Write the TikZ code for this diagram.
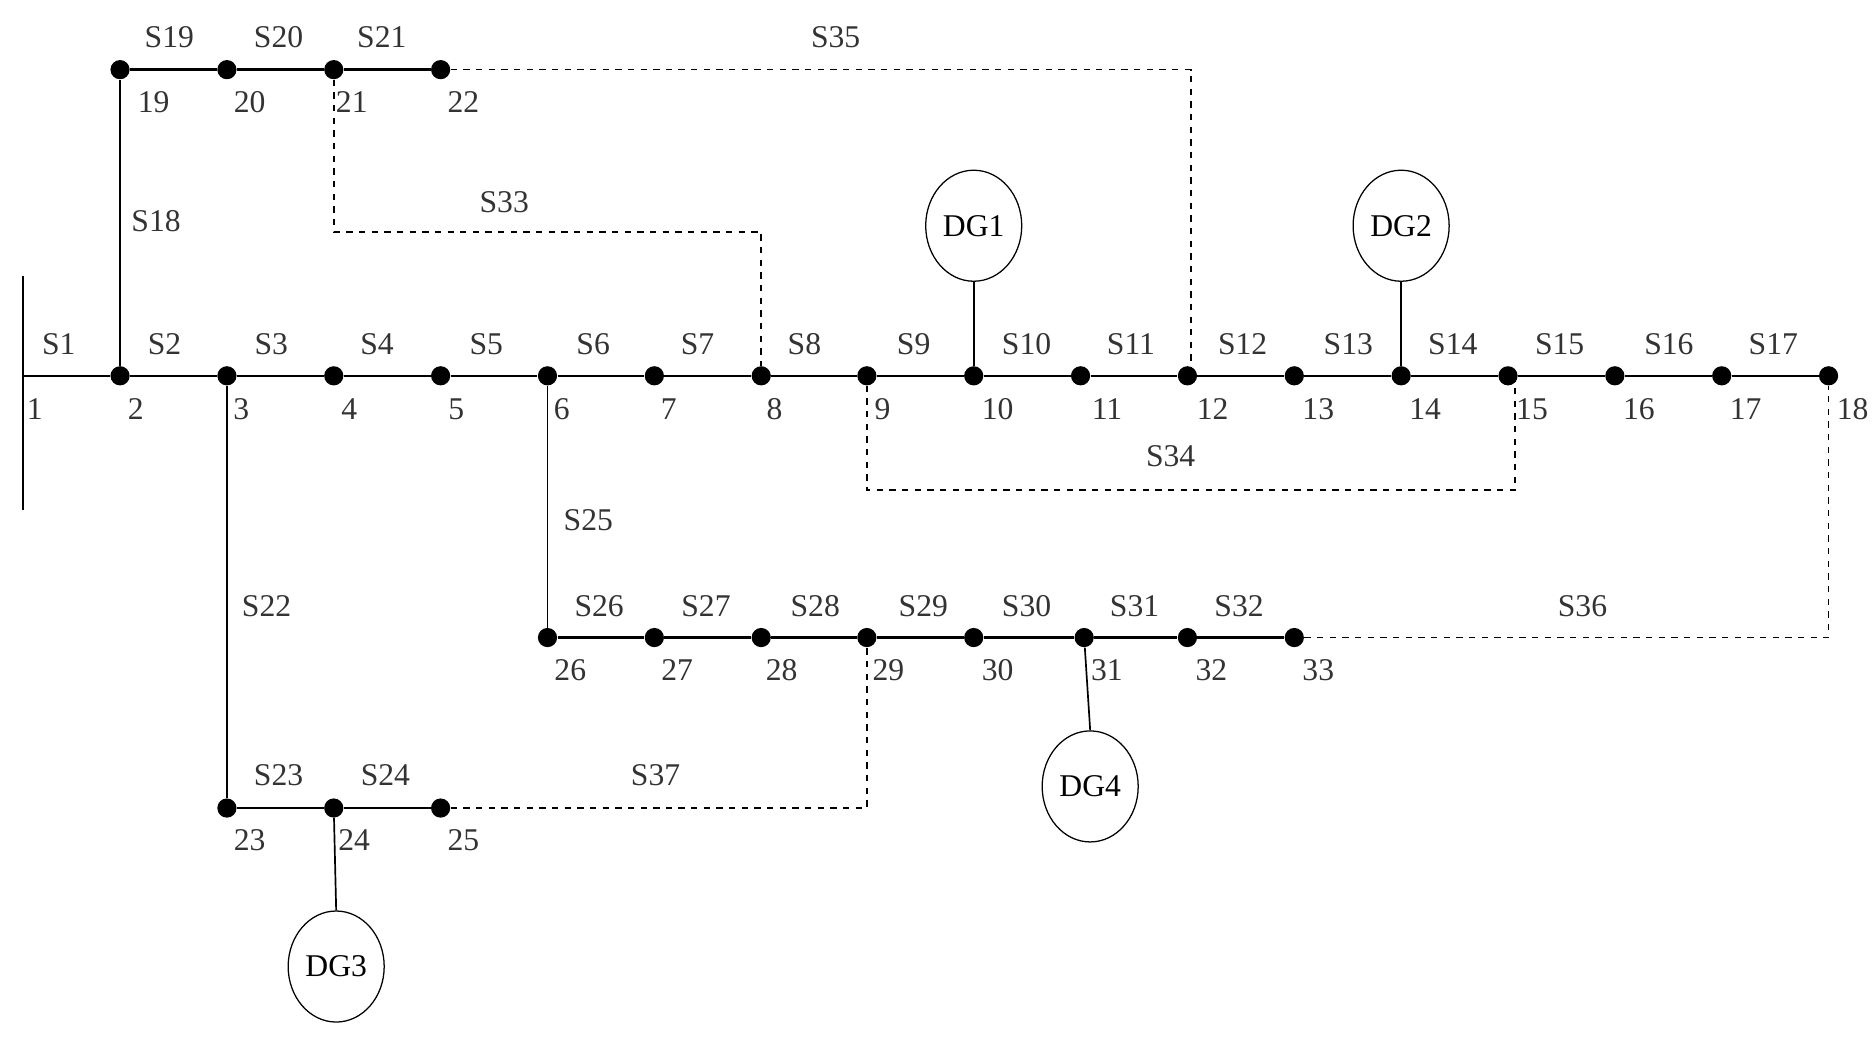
\documentclass[tikz,border=0pt]{standalone}
\usepackage{fontspec}
\setmainfont{Liberation Serif}
\usetikzlibrary{shapes.geometric}
\begin{document}
\begin{tikzpicture}[x=0.02cm,y=-0.02cm,
  bus/.style={circle,fill=black,inner sep=0pt,minimum size=0.32cm},
  dg/.style={ellipse,draw,line width=0.6pt,minimum width=1.6cm,minimum height=1.85cm,inner sep=0pt,font=\fontsize{15}{18}\selectfont},
  lab/.style={font=\fontsize{15}{18}\selectfont,text=black!80,inner sep=1pt},
  ln/.style={line width=1.1pt},
  tie/.style={dashed,line width=0.8pt}]
\useasboundingbox (0,0) rectangle (1560,863);
% bus bar
\coordinate (b1) at (19,313);
\draw[line width=0.8pt] (19,230) -- (19,425);
% main line nodes
\foreach \n/\x in {2/100,3/189,4/278,5/367,6/456,7/545,8/634,9/722,10/811,11/900,12/989,13/1078,14/1167,15/1256,16/1345,17/1434,18/1523}
  \node[bus] (n\n) at (\x,313) {};
\foreach \n/\x in {19/100,20/189,21/278,22/367}
  \node[bus] (n\n) at (\x,58) {};
\foreach \n/\x in {26/456,27/545,28/634,29/722,30/811,31/903,32/989,33/1078}
  \node[bus] (n\n) at (\x,531) {};
\foreach \n/\x in {23/189,24/278,25/367}
  \node[bus] (n\n) at (\x,673) {};
% number labels
\node[lab] at (29,341) {1};
\foreach \n/\x in {2/113,3/201,4/291,5/380,6/468,7/557,8/645,9/735,10/831,11/922,12/1010,13/1098,14/1187,15/1276,16/1365,17/1454,18/1543}
  \node[lab] at (\x,341) {\n};
\foreach \n/\x in {19/128,20/208,21/293,22/386}
  \node[lab] at (\x,85) {\n};
\foreach \n/\x in {26/475,27/564,28/651,29/740,30/831,31/922,32/1009,33/1098}
  \node[lab] at (\x,558) {\n};
\foreach \n/\x in {23/208,24/295,25/386}
  \node[lab] at (\x,700) {\n};
% solid edges
\draw[ln] (b1) -- (n2) -- (n3) -- (n4) -- (n5) -- (n6) -- (n7) -- (n8) -- (n9) -- (n10) -- (n11) -- (n12) -- (n13) -- (n14) -- (n15) -- (n16) -- (n17) -- (n18);
\draw[ln] (n19) -- (n20) -- (n21) -- (n22);
\draw[ln] (n26) -- (n27) -- (n28) -- (n29) -- (n30) -- (n31) -- (n32) -- (n33);
\draw[ln] (n23) -- (n24) -- (n25);
\draw[line width=0.8pt] (n2) -- (n19);
\draw[line width=0.8pt] (n3) -- (n23);
\draw[line width=0.8pt] (n6) -- (n26);
% S labels main
\foreach \t/\x in {S1/49,S2/137,S3/226,S4/314,S5/405,S6/494,S7/581,S8/670,S9/761,S10/855,S11/942,S12/1035,S13/1123,S14/1210,S15/1299,S16/1390,S17/1477}
  \node[lab] at (\x,287) {\t};
\foreach \t/\x in {S19/141,S20/232,S21/318}
  \node[lab] at (\x,31) {\t};
\foreach \t/\x in {S26/499,S27/588,S28/679,S29/769,S30/855,S31/945,S32/1032}
  \node[lab] at (\x,505) {\t};
\node[lab] at (232,646) {S23};
\node[lab] at (321,646) {S24};
\node[lab] at (130,184) {S18};
\node[lab] at (222,505) {S22};
\node[lab] at (490,433) {S25};
% DGs
\node[dg] (dg1) at (811,188) {DG1};
\node[dg] (dg2) at (1167,188) {DG2};
\node[dg] (dg4) at (908,655) {DG4};
\node[dg] (dg3) at (280,805) {DG3};
\draw[line width=0.8pt] (dg1) -- (n10);
\draw[line width=0.8pt] (dg2) -- (n14);
\draw[line width=0.8pt] (dg4.north) -- (n31);
\draw[line width=0.8pt] (dg3.north) -- (n24);
% tie lines
\draw[tie] (n22) -- (992,58) -- (992,313) -- (n12);
\node[lab] at (696,31) {S35};
\draw[tie] (n21) -- (278,193) -- (634,193) -- (n8);
\node[lab] at (420,168) {S33};
\draw[tie] (n9) -- (722,408) -- (1262,408) -- (1262,313) -- (n15);
\node[lab] at (975,380) {S34};
\draw[tie] (n33) -- (1523,531) -- (n18);
\node[lab] at (1318,505) {S36};
\draw[tie] (n25) -- (722,673) -- (n29);
\node[lab] at (546,646) {S37};
\end{tikzpicture}
\end{document}
